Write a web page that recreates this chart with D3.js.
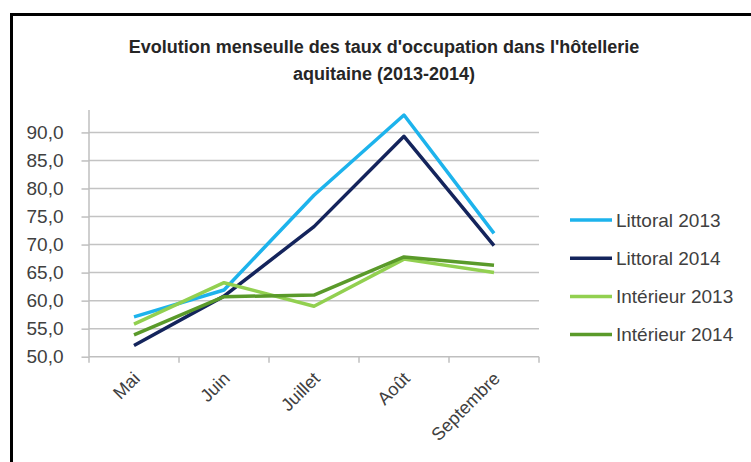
<!DOCTYPE html>
<html>
<head>
<meta charset="utf-8">
<script src="https://cdn.jsdelivr.net/npm/d3@7"></script>
<style>
  html, body { margin: 0; padding: 0; background: #fff; }
  svg { display: block; }
  text { font-family: "Liberation Sans", Arial, sans-serif; }
</style>
</head>
<body>
<svg id="chart" width="751" height="462"></svg>
<script>
// ---- data ----
const months = ["Mai", "Juin", "Juillet", "Août", "Septembre"];
const seriesNames = ["Littoral 2013", "Littoral 2014", "Intérieur 2013", "Intérieur 2014"];
const littoral2013 = [57.1, 61.9, 78.8, 93.1, 72.0];
const littoral2014 = [52.0, 60.8, 73.2, 89.3, 69.8];
const interieur2013 = [55.8, 63.2, 59.0, 67.4, 65.0];
const interieur2014 = [53.9, 60.7, 61.0, 67.8, 66.3];
const yTicks = [50, 55, 60, 65, 70, 75, 80, 85, 90];
const titleLines = ["Evolution menseulle des taux d'occupation dans l'hôtellerie", "aquitaine (2013-2014)"];

const seriesValues = [littoral2013, littoral2014, interieur2013, interieur2014];
const colors = ["#1DB3EC", "#14245C", "#92D050", "#5A9A2A"];

const svg = d3.select("#chart");

// border (extends beyond right/bottom)
svg.append("rect")
  .attr("x", 11.5).attr("y", 14.5)
  .attr("width", 800).attr("height", 500)
  .attr("fill", "none").attr("stroke", "#000").attr("stroke-width", 3);

// title
svg.append("g").selectAll("text").data(titleLines).join("text")
  .attr("x", 384).attr("y", (d, i) => 53 + i * 26.5)
  .attr("text-anchor", "middle")
  .attr("font-size", 18).attr("font-weight", "bold")
  .attr("fill", "#262626")
  .text(d => d);

// scales
const x = d3.scaleBand().domain(months).range([89, 539]).padding(0);
const y = d3.scaleLinear().domain([50, 94]).range([356.7, 110]);
const cx = m => x(m) + x.bandwidth() / 2;

// gridlines
svg.append("g").selectAll("line").data(yTicks.filter(t => t > 50)).join("line")
  .attr("x1", 89).attr("x2", 539)
  .attr("y1", d => y(d)).attr("y2", d => y(d))
  .attr("stroke", "#c3c3c3").attr("stroke-width", 1.5);

// y axis
const yAxis = d3.axisLeft(y).tickValues(yTicks).tickSize(7.5).tickPadding(18)
  .tickFormat(d => d3.format(".1f")(d).replace(".", ","));
const gy = svg.append("g").attr("transform", "translate(89,0)").call(yAxis);
gy.select(".domain").remove();
gy.append("line").attr("x1", 0).attr("x2", 0).attr("y1", y(94)).attr("y2", y(50))
  .attr("stroke", "#bfbfbf").attr("stroke-width", 1.5);
gy.selectAll(".tick line").attr("stroke", "#bfbfbf").attr("stroke-width", 1.5);
gy.selectAll(".tick text").attr("font-size", 19).attr("fill", "#404040")
  .attr("font-family", "Liberation Sans, Arial, sans-serif").attr("x", -25.5);

// x axis
svg.append("line").attr("x1", 89).attr("x2", 539).attr("y1", y(50)).attr("y2", y(50))
  .attr("stroke", "#bfbfbf").attr("stroke-width", 1.5);
const boundaries = months.map(m => x(m)).concat([x.range()[1]]);
svg.append("g").selectAll("line").data(boundaries).join("line")
  .attr("x1", d => d).attr("x2", d => d)
  .attr("y1", y(50)).attr("y2", y(50) + 6)
  .attr("stroke", "#bfbfbf").attr("stroke-width", 1.5);
svg.append("g").selectAll("text").data(months).join("text")
  .attr("transform", d => `translate(${cx(d) + 7},${y(50) + 23}) rotate(-45)`)
  .attr("text-anchor", "end")
  .attr("font-size", 18).attr("fill", "#404040")
  .text(d => d);

// lines
const line = d3.line().x((d, i) => cx(months[i])).y(d => y(d));
svg.append("g").selectAll("path").data(seriesValues).join("path")
  .attr("d", d => line(d))
  .attr("fill", "none")
  .attr("stroke", (d, i) => colors[i])
  .attr("stroke-width", 3.5)
  .attr("stroke-linejoin", "round");

// legend
const leg = svg.append("g").selectAll("g").data(seriesNames).join("g")
  .attr("transform", (d, i) => `translate(0,${220 + i * 38.2})`);
leg.append("line").attr("x1", 570).attr("x2", 612).attr("y1", 0).attr("y2", 0)
  .attr("stroke", (d, i) => colors[i]).attr("stroke-width", 3.5);
leg.append("text").attr("x", 616).attr("y", 0).attr("dy", "0.36em")
  .attr("font-size", 19).attr("fill", "#404040")
  .text(d => d);
</script>
</body>
</html>
